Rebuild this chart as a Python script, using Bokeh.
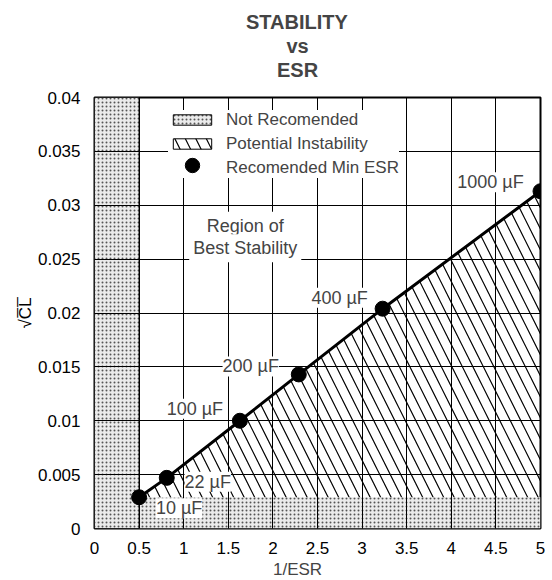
import math
from bokeh.plotting import figure
from bokeh.models import (Range1d, FixedTicker, ColumnDataSource, LabelSet, Label,
                          Legend, LegendItem, Title)
from bokeh.core.properties import value
from bokeh.embed import file_html
from bokeh.resources import INLINE

# ---- data ----
inv_esr = [0.5, 0.81, 1.63, 2.29, 3.23, 5.0]                 # 1/ESR
sqrt_cl = [0.0029, 0.0047, 0.0100, 0.0143, 0.0204, 0.0313]   # sqrt(CL)
cap_labels = ["10 µF", "22 µF", "100 µF", "200 µF", "400 µF", "1000 µF"]

x_ticks = [0, 0.5, 1, 1.5, 2, 2.5, 3, 3.5, 4, 4.5, 5]
x_tick_labels = ["0", "0.5", "1", "1.5", "2", "2.5", "3", "3.5", "4", "4.5", "5"]
y_ticks = [0, 0.005, 0.01, 0.015, 0.02, 0.025, 0.03, 0.035, 0.04]
y_tick_labels = ["0", "0.005", "0.01", "0.015", "0.02", "0.025", "0.03", "0.035", "0.04"]

legend_labels = ["Not Recomended", "Potential Instability", "Recomended Min ESR"]
title_lines = ["STABILITY", "vs", "ESR"]
x_title = "1/ESR"
y_title = "√C\u0305L\u0305"
region_text = ["Region of", "Best Stability"]

# ---- layout / style ----
cap_dx = [40, 41, -45, -48, -43, -50]      # px offsets of capacitor labels
cap_dy = [-11, -4, 12, 8, 11, 9]
FONT = "Liberation Sans"

p = figure(width=552, height=580,
           x_range=Range1d(x_ticks[0], x_ticks[-1]), y_range=Range1d(y_ticks[0], y_ticks[-1]),
           output_backend="svg", toolbar_location=None,
           min_border_left=94, min_border_right=12, min_border_top=97, min_border_bottom=52)
p.background_fill_color = "white"
p.border_fill_color = "white"
p.outline_line_color = "black"
p.outline_line_width = 2

for ax, ticks, labs in ((p.xaxis[0], x_ticks, x_tick_labels), (p.yaxis[0], y_ticks, y_tick_labels)):
    ax.ticker = FixedTicker(ticks=ticks)
    ax.major_label_overrides = {t: l for t, l in zip(ticks, labs)}
    ax.major_tick_line_color = None
    ax.minor_tick_line_color = None
    ax.axis_line_color = None
    ax.major_label_text_font = FONT
    ax.major_label_text_font_size = "17px"
    ax.major_label_text_color = "black"
p.xaxis[0].major_label_standoff = 7
p.yaxis[0].major_label_standoff = 8
p.yaxis[0].axis_label = y_title
p.yaxis[0].axis_label_text_font = FONT
p.yaxis[0].axis_label_text_font_size = "17px"
p.yaxis[0].axis_label_text_font_style = "normal"
p.yaxis[0].axis_label_text_color = "black"
p.yaxis[0].axis_label_standoff = 0

p.xgrid.ticker = FixedTicker(ticks=x_ticks)
p.ygrid.ticker = FixedTicker(ticks=y_ticks)
for g in (p.xgrid[0], p.ygrid[0]):
    g.grid_line_color = "black"
    g.grid_line_width = 1
    g.level = "annotation"     # grid shows through the stippled bands

# ---- regions ----
hatch = dict(hatch_pattern="\\", hatch_scale=21, hatch_weight=1.2, hatch_color="black")
r_hatch = p.patch(inv_esr + [inv_esr[-1], inv_esr[0]], sqrt_cl + [y_ticks[0], y_ticks[0]],
                  fill_alpha=0, line_color="black", line_width=1, **hatch)

stipple = dict(fill_color="#ebebeb", fill_alpha=1, hatch_pattern=".", hatch_scale=4,
               hatch_color="#555555", hatch_weight=1)
r_left = p.quad(left=[x_ticks[0]], right=[inv_esr[0]], bottom=[y_ticks[0]], top=[y_ticks[-1]],
                line_color="black", line_width=1, **stipple)
p.quad(left=[inv_esr[0]], right=[x_ticks[-1]], bottom=[y_ticks[0]], top=[sqrt_cl[0]],
       line_color=None, **stipple)

p.line(inv_esr, sqrt_cl, line_width=3, color="black")
r_dots = p.scatter(inv_esr, sqrt_cl, size=15, color="black")

# ---- labels ----
src = ColumnDataSource(dict(x=inv_esr, y=sqrt_cl, text=cap_labels, dx=cap_dx, dy=cap_dy))
p.add_layout(LabelSet(x="x", y="y", text="text", x_offset="dx", y_offset="dy", source=src,
                      text_align="center", text_baseline="middle",
                      text_font=value(FONT), text_font_size="18px",
                      background_fill_color="white"))

for txt, yy in zip(region_text, [0.0281, 0.0260]):
    p.add_layout(Label(x=1.69, y=yy, text=txt, text_align="center", text_baseline="middle",
                       text_font=FONT, text_font_size="18px",
                       background_fill_color="white", padding=4))

# ---- legend ----
legA = Legend(items=[LegendItem(label=legend_labels[0], renderers=[r_left]),
                     LegendItem(label=legend_labels[1], renderers=[r_hatch]),
                     LegendItem(label=legend_labels[2], renderers=[r_dots])],
              location=(74, 350.5), glyph_width=48, glyph_height=13, label_height=17,
              spacing=4, padding=6, margin=0, label_standoff=10,
              border_line_color=None, background_fill_color="white", background_fill_alpha=1,
              label_text_font=FONT, label_text_font_size="17px")
p.add_layout(legA)
legB = Legend(items=[LegendItem(label=" ", renderers=[r_dots])],
              location=(74, 345.5), glyph_width=48, glyph_height=36, label_height=36,
              label_width=0, spacing=0, padding=0, margin=0, label_standoff=0,
              border_line_color=None, background_fill_alpha=0,
              label_text_font_size="2px")
p.add_layout(legB)

# ---- titles (above) and x-axis title (below) ----
tprops = Title.properties()


def style_title(t, text, size, bold, offset, standoff=0):
    t.text = text
    t.align = "left"
    t.offset = offset
    t.text_font = FONT
    t.text_font_size = size
    t.text_font_style = "bold" if bold else "normal"
    if "standoff" in tprops:
        t.standoff = standoff
    return t


style_title(p.title, title_lines[0], "20px", True, 151.5)                         # outermost
p.add_layout(style_title(Title(), "\u00a0", "13px", False, 0), "above")          # spacer next to frame
p.add_layout(style_title(Title(), title_lines[2], "20px", True, 182.5), "above")
p.add_layout(style_title(Title(), title_lines[1], "20px", True, 192), "above")
p.add_layout(style_title(Title(), x_title, "17px", False, 178.5, 2), "below")

open("out.html", "w").write(file_html(p, INLINE))
